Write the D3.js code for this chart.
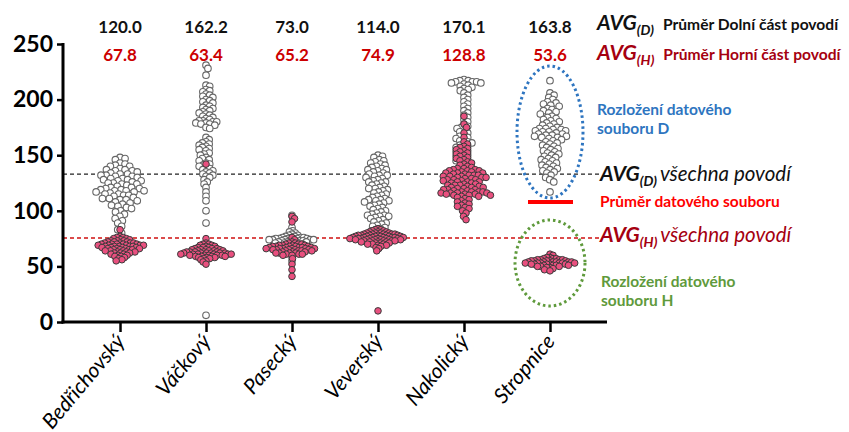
<!DOCTYPE html>
<html><head><meta charset="utf-8">
<script src="https://cdn.jsdelivr.net/npm/d3@7"></script>
<style>body{margin:0;background:#fff}svg{display:block}text{font-family:Lato,"Open Sans",sans-serif}</style>
</head><body><svg id="c" width="849" height="432"></svg>
<script>
const categories = ["Bedřichovský","Váčkový","Pasecký","Veverský","Nakolický","Stropnice"];
const avgD = ["120.0","162.2","73.0","114.0","170.1","163.8"];
const avgH = ["67.8","63.4","65.2","74.9","128.8","53.6"];
const avgAllD = 133;
const avgAllH = 75.5;
const yTicks = [0,50,100,150,200,250];

const dataD_Bedrichovsky = [148,147,146,143,142,141,140,140,138,137,137,136,136,135,134,133,133,132,132,131,131,130,129,129,128,128,127,127,126,125,125,124,124,123,122,121,121,120,120,119,119,118,118,118,117,117,116,115,115,114,114,113,112,111,111,110,110,109,108,107,106,105,104,103,102,100,99,97,95,93,91,89,86,83,80];
const dataH_Bedrichovsky = [83,77,76,76,75,75,74,74,73,73,73,72,72,72,71,71,71,71,70,70,70,70,70,69,69,69,69,69,68,68,68,68,68,67,67,67,67,66,66,66,66,65,65,65,65,64,64,64,63,63,63,62,62,62,61,61,60,60,59,59,58,57,56,55];
const dataD_Vackovy = [231,228,222,213,212,209,208,207,205,204,203,202,200,199,198,197,195,194,193,192,191,190,189,188,187,186,185,184,183,182,181,181,180,180,179,179,178,178,177,175,174,166,164,162,161,160,159,158,157,156,155,154,152,151,150,148,147,146,145,143,142,141,140,139,138,137,136,135,134,133,132,131,130,128,126,124,121,117,113,109,100,89,6];
const dataH_Vackovy = [142,75,71,70,70,69,69,68,68,67,67,67,66,66,66,65,65,65,65,64,64,64,64,63,63,63,63,63,62,62,62,62,62,62,61,61,61,61,61,61,60,60,60,60,60,59,59,59,59,58,58,58,57,57,56,55,54,52];
const dataD_Pasecky = [96,85,82,81,80,79,78,78,77,77,76,76,76,76,75,75,75,75,75,74,74,74,74,74,74,73,73,73,73,72,72,72,72,71,71,71,70,70,70,69,69,68,67,59,55];
const dataH_Pasecky = [95,93,90,76,74,72,71,71,70,70,70,69,69,69,69,68,68,68,68,68,67,67,67,67,67,66,66,66,66,66,66,65,65,65,65,65,64,64,64,64,63,63,63,62,62,62,62,61,61,61,60,60,57,52,47,41];
const dataD_Veversky = [150,149,148,146,145,144,143,142,141,140,139,138,137,137,136,135,134,133,132,132,131,130,129,128,127,126,126,125,124,123,122,121,120,120,119,118,117,116,115,114,113,112,111,110,110,109,109,108,107,106,105,104,103,102,101,100,99,98,97,96,96,95,95,94,93,92,91,90,89,88,87,86,85,84,83,82];
const dataH_Veversky = [10,84,83,83,82,82,81,81,81,80,80,80,80,79,79,79,79,79,78,78,78,78,78,78,77,77,77,77,77,77,76,76,76,76,76,76,76,75,75,75,75,75,75,75,74,74,74,74,74,74,73,73,73,73,73,72,72,72,72,71,71,71,70,70,70,69,69,68,67,66,64];
const dataD_Nakolicky = [218,217,217,216,216,216,215,215,214,213,212,211,210,209,208,206,204,202,200,198,196,194,192,190,188,186,184,182,180,178,176,175,174,172,171,170,168,167,166,165,164,163,162,161,160,159,158,157,156,155,154,153,152,151,150,149,148,147,146,145,143,141,139,137,135,133,130,127];
const dataH_Nakolicky = [185,178,175,170,166,162,160,158,157,156,155,154,153,152,151,150,149,148,147,146,145,144,143,142,141,140,139,138,138,137,137,136,136,136,135,135,134,134,134,133,133,132,132,132,131,131,131,130,130,130,129,129,128,128,128,127,127,126,126,126,125,125,124,124,123,123,123,122,122,121,121,121,120,120,119,119,119,118,118,117,117,117,117,116,116,116,116,115,115,115,114,114,114,113,113,112,111,110,109,108,107,106,105,104,103,102,100,98,95,92];
const dataD_Stropnice = [217,206,204,202,200,198,197,196,195,194,192,191,190,189,188,187,185,184,183,182,181,180,179,178,177,176,175,174,174,173,173,172,172,171,171,170,169,169,168,168,167,167,166,166,165,164,163,162,161,160,159,158,157,156,155,154,153,152,151,150,149,148,147,146,145,144,143,142,141,140,139,138,137,136,135,134,132,130,128,126,117];
const dataH_Stropnice = [61,60,58,58,57,57,57,56,56,56,56,55,55,55,55,55,54,54,54,54,54,54,53,53,53,53,53,53,52,52,52,52,52,51,51,51,51,50,50,50,49,49,48,47,46];

const seriesD = [dataD_Bedrichovsky,dataD_Vackovy,dataD_Pasecky,dataD_Veversky,dataD_Nakolicky,dataD_Stropnice];
const seriesH = [dataH_Bedrichovsky,dataH_Vackovy,dataH_Pasecky,dataH_Veversky,dataH_Nakolicky,dataH_Stropnice];

// layout: maximum swarm width (px) per category
const maxWidthD = [56,30,57,34,36,40];
const maxWidthH = [58,57,55,60,56,56];

const svg = d3.select("#c");
const x = d3.scalePoint().domain(categories).range([63,607]).padding(0.663);
const y = d3.scaleLinear().domain([0,250]).range([322,44]);

svg.append("line").attr("x1",63).attr("x2",600).attr("y1",y(avgAllD)).attr("y2",y(avgAllD))
  .attr("stroke","#222").attr("stroke-width",1.4).attr("stroke-dasharray","4,3");
svg.append("line").attr("x1",63).attr("x2",600).attr("y1",y(avgAllH)).attr("y2",y(avgAllH))
  .attr("stroke","#d01010").attr("stroke-width",1.4).attr("stroke-dasharray","4,3");

function swarm(values, d){
  const pts = values.map(v=>({v, y:y(v), x:0})).sort((a,b)=>a.y-b.y);
  const placed=[];
  for(const p of pts){
    const cand=[0];
    for(const q of placed){
      const dy=Math.abs(p.y-q.y);
      if(dy<d){const dx=Math.sqrt(d*d-dy*dy);cand.push(q.x+dx,q.x-dx);}
    }
    cand.sort((a,b)=>Math.abs(a)-Math.abs(b));
    for(const c of cand){
      let ok=true;
      for(const q of placed){const dx=c-q.x,dy=p.y-q.y;if(dx*dx+dy*dy<d*d-0.01){ok=false;break;}}
      if(ok){p.x=c;break;}
    }
    placed.push(p);
  }
  return placed;
}
function fitSwarm(values, cx, maxW, dMax){
  let pts = swarm(values, dMax);
  const w = ps => d3.max(ps,p=>p.x)-d3.min(ps,p=>p.x)+6.6;
  if(w(pts)>maxW){
    let lo=1.5, hi=dMax;
    for(let k=0;k<14;k++){
      const mid=(lo+hi)/2; const ps=swarm(values,mid);
      if(w(ps)>maxW) hi=mid; else lo=mid;
    }
    pts = swarm(values, lo);
  }
  return pts.map(p=>({cx:cx+p.x, cy:p.y}));
}

const gD = svg.append("g"), gH = svg.append("g");
categories.forEach((c,i)=>{
  gD.selectAll(null).data(fitSwarm(seriesD[i], x(c), maxWidthD[i], 6.3)).join("circle")
    .attr("cx",d=>d.cx).attr("cy",d=>d.cy).attr("r",3.3)
    .attr("fill","#fff").attr("stroke","#666").attr("stroke-width",1.1);
});
categories.forEach((c,i)=>{
  gH.selectAll(null).data(fitSwarm(seriesH[i], x(c), maxWidthH[i], 6.3)).join("circle")
    .attr("cx",d=>d.cx).attr("cy",d=>d.cy).attr("r",3.3)
    .attr("fill","#e9507f").attr("stroke","#3b3b3b").attr("stroke-width",1);
});

const ya = svg.append("g").attr("transform","translate(63,0)")
  .call(d3.axisLeft(y).tickValues(yTicks).tickSize(6).tickPadding(4).tickSizeOuter(0));
ya.select(".domain").attr("stroke","#000").attr("stroke-width",3).attr("d","M0,"+(y(250)-1)+"V"+(y(0)+1.5));
ya.selectAll(".tick line").attr("stroke","#000").attr("stroke-width",2.5);
ya.selectAll(".tick text").attr("font-size",23).attr("font-weight",700).attr("fill","#000").attr("font-family","Lato");

const xa = svg.append("g").attr("transform","translate(0,322)")
  .call(d3.axisBottom(x).tickSize(10).tickSizeOuter(0).tickFormat(""));
xa.select(".domain").attr("stroke","#000").attr("stroke-width",3).attr("d","M61.5,0H607");
xa.selectAll(".tick line").attr("stroke","#000").attr("stroke-width",2.5);

svg.append("g").selectAll("text").data(categories).join("text")
  .attr("transform",d=>`translate(${x(d)+6},342) rotate(-50)`)
  .attr("text-anchor","end").attr("font-size",21).attr("font-style","italic").attr("fill","#000")
  .text(d=>d);

svg.append("g").selectAll("text").data(categories).join("text")
  .attr("x",d=>x(d)).attr("y",33).attr("text-anchor","middle").attr("font-size",17).attr("font-weight",700).attr("fill","#111")
  .text((d,i)=>avgD[i]);
svg.append("g").selectAll("text").data(categories).join("text")
  .attr("x",d=>x(d)).attr("y",61).attr("text-anchor","middle").attr("font-size",17).attr("font-weight",700).attr("fill","#cc0000")
  .text((d,i)=>avgH[i]);

function avgLabel(xp, yp, sub, color, rest, restBold, restSize){
  const t = svg.append("text").attr("x",xp).attr("y",yp).attr("fill",color);
  t.append("tspan").attr("font-size",21).attr("font-weight",700).attr("font-style","italic").text("AVG");
  t.append("tspan").attr("font-size",14).attr("font-weight",700).attr("font-style","italic").attr("dy",5).text("("+sub+")");
  if(rest){
    t.append("tspan").attr("font-size",restSize).attr("font-weight",restBold?700:400).attr("font-style",restBold?"normal":"italic")
      .attr("dy",-5).attr("dx",restBold?9:3).text(rest);
  }
}
avgLabel(597,30,"D","#111","Průměr Dolní část povodí",true,15.6);
avgLabel(597,60,"H","#a50010","Průměr Horní část povodí",true,15.6);
avgLabel(600,181,"D","#111","všechna povodí",false,20.5);
avgLabel(600,242,"H","#a50010","všechna povodí",false,20.5);

svg.append("line").attr("x1",528).attr("x2",573).attr("y1",202).attr("y2",202).attr("stroke","#ff0000").attr("stroke-width",4);
svg.append("text").attr("x",600).attr("y",207).attr("font-size",15.5).attr("font-weight",700).attr("fill","#ff0000").text("Průměr datového souboru");

svg.append("ellipse").attr("cx",550).attr("cy",132).attr("rx",33).attr("ry",66)
  .attr("fill","none").attr("stroke","#2e75c0").attr("stroke-width",3).attr("stroke-dasharray","2.5,3");
svg.append("ellipse").attr("cx",550).attr("cy",263).attr("rx",35).attr("ry",43)
  .attr("fill","none").attr("stroke","#5f9a3c").attr("stroke-width",3).attr("stroke-dasharray","2.5,3");

const bl = svg.append("text").attr("font-size",15.5).attr("font-weight",700).attr("fill","#2e75c0");
bl.append("tspan").attr("x",597).attr("y",115).text("Rozložení datového");
bl.append("tspan").attr("x",597).attr("y",134).text("souboru D");
const gl = svg.append("text").attr("font-size",15.5).attr("font-weight",700).attr("fill","#5f9a3c");
gl.append("tspan").attr("x",601).attr("y",287).text("Rozložení datového");
gl.append("tspan").attr("x",601).attr("y",306).text("souboru H");
</script></body></html>
